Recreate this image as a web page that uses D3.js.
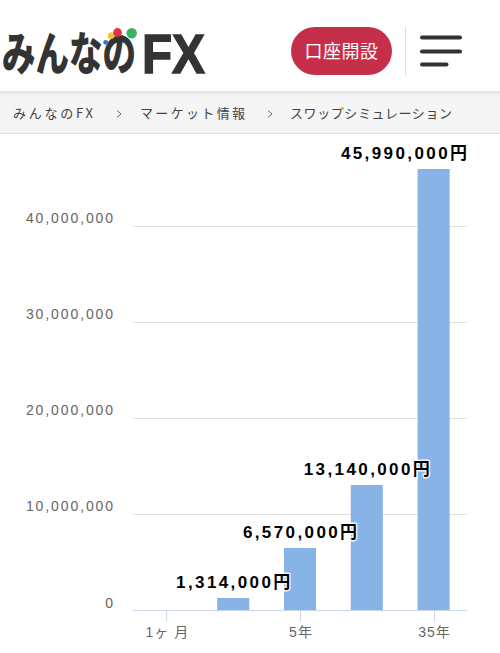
<!DOCTYPE html>
<html><head><meta charset="utf-8">
<script src="https://cdn.jsdelivr.net/npm/d3@7"></script>
<style>
html,body{margin:0;padding:0;background:#fff;}
svg{display:block;}
</style></head>
<body>
<svg id="c" width="500" height="653"></svg>
<script>
// ---- data ----
const categories = ["1ヶ 月", "1年", "5年", "10年", "35年"];
const values = [109500, 1314000, 6570000, 13140000, 45990000];
const showValueLabel = [false, true, true, true, true];
const showCategoryLabel = [true, false, true, false, true];
const yTickValues = [0, 10000000, 20000000, 30000000, 40000000];
const breadcrumbs = ["みんなのFX", "マーケット情報", "スワップシミュレーション"];
const logoKana = "みんなの";
const logoLatin = "FX";
const buttonText = "口座開設";

const svg = d3.select("#c");
const sans = "'Liberation Sans', Arial, 'Noto Sans CJK JP', sans-serif";
const cjk = "'Noto Sans CJK JP', sans-serif";

// ---- header ----
const header = svg.append("g");
const kana = header.append("text").text(logoKana)
  .attr("font-family", cjk).attr("font-weight", 900).attr("font-size", 46)
  .attr("fill", "#333");
const kw = kana.node().getComputedTextLength();
kana.attr("transform", `translate(2,70) scale(${134 / kw},1)`);
const latin = header.append("text").text(logoLatin)
  .attr("font-family", "'Liberation Sans', Arial, sans-serif").attr("font-weight", 700).attr("font-size", 56)
  .attr("fill", "#333").attr("stroke", "#333").attr("stroke-width", 1.5);
const lw = latin.node().getComputedTextLength();
latin.attr("transform", `translate(142,73) scale(${63 / lw},1)`);
const dots = [
  {x: 105.7, y: 42.3, r: 2.4, c: "#2b78cf"},
  {x: 111, y: 35.7, r: 3.2, c: "#f3c12c"},
  {x: 117.5, y: 32.5, r: 4.4, c: "#e0363f"},
  {x: 131.7, y: 33.3, r: 5.2, c: "#3bb063"}
];
header.selectAll("circle.dot").data(dots).join("circle")
  .attr("cx", d => d.x).attr("cy", d => d.y).attr("r", d => d.r).attr("fill", d => d.c);

header.append("rect").attr("x", 291).attr("y", 27).attr("width", 101).attr("height", 48)
  .attr("rx", 24).attr("fill", "#c62f49");
header.append("text").text(buttonText)
  .attr("x", 341.5).attr("y", 51.5).attr("dy", "0.36em")
  .attr("text-anchor", "middle").attr("font-family", cjk).attr("font-size", 18)
  .attr("letter-spacing", "0.5px").attr("fill", "#fff");
header.append("line").attr("x1", 405.5).attr("x2", 405.5).attr("y1", 27).attr("y2", 75)
  .attr("stroke", "#ddd").attr("stroke-width", 1);
const burger = [{y: 37.5, x2: 460}, {y: 51.5, x2: 460}, {y: 64.5, x2: 446.5}];
header.selectAll("line.burger").data(burger).join("line")
  .attr("x1", 422).attr("x2", d => d.x2).attr("y1", d => d.y).attr("y2", d => d.y)
  .attr("stroke", "#333").attr("stroke-width", 4).attr("stroke-linecap", "round");

// ---- breadcrumb bar ----
const defs = svg.append("defs");
const grad = defs.append("linearGradient").attr("id", "sh").attr("x1", 0).attr("x2", 0).attr("y1", 0).attr("y2", 1);
grad.append("stop").attr("offset", "0%").attr("stop-color", "#e2e2e2");
grad.append("stop").attr("offset", "100%").attr("stop-color", "#f5f5f5");
svg.append("rect").attr("x", 0).attr("y", 92).attr("width", 500).attr("height", 41).attr("fill", "#f5f5f5");
svg.append("rect").attr("x", 0).attr("y", 91).attr("width", 500).attr("height", 5).attr("fill", "url(#sh)");
svg.append("line").attr("x1", 0).attr("x2", 500).attr("y1", 133.5).attr("y2", 133.5).attr("stroke", "#dedede");
const crumbX = [13, 140, 290];
const crumbW = [80, 105, 162];
const sepX = [117, 268];
svg.selectAll("text.crumb").data(breadcrumbs).join("text")
  .attr("x", (d, i) => crumbX[i]).attr("y", 113).attr("dy", "0.36em")
  .attr("font-family", cjk).attr("font-size", 13)
  .attr("textLength", (d, i) => crumbW[i]).attr("lengthAdjust", "spacing")
  .attr("fill", "#444").text(d => d);
svg.selectAll("path.sep").data(sepX).join("path")
  .attr("d", x => `M${x},110.5 L${x + 4},114 L${x},117.5`)
  .attr("fill", "none").attr("stroke", "#666").attr("stroke-width", 1);

// ---- chart ----
const plotLeft = 133, plotRight = 467;
const x = d3.scaleBand().domain(categories).range([plotLeft, plotRight])
  .paddingInner(0.52).paddingOuter(0.26);
const y = d3.scaleLinear().domain([0, 40000000]).range([611, 226.5]);
const fmt = d3.format(",");

const chart = svg.append("g");
// gridlines
chart.selectAll("line.grid").data(yTickValues.filter(v => v > 0)).join("line")
  .attr("x1", plotLeft).attr("x2", plotRight)
  .attr("y1", d => Math.round(y(d)) - 0.5).attr("y2", d => Math.round(y(d)) - 0.5)
  .attr("stroke", "#e0e0e0").attr("stroke-width", 1);
// y labels
chart.selectAll("text.ylab").data(yTickValues).join("text")
  .attr("x", 115).attr("y", d => y(d) - 3.5)
  .attr("text-anchor", "end").attr("font-family", sans).attr("font-size", 14)
  .attr("letter-spacing", "1.9px").attr("fill", "#666").text(d => fmt(d));

// bars
chart.selectAll("rect.bar").data(values).join("rect")
  .attr("x", (d, i) => x(categories[i])).attr("width", x.bandwidth())
  .attr("y", d => Math.round(y(d))).attr("height", d => y(0) - Math.round(y(d)))
  .attr("fill", "#87b3e6");

// axis line + ticks
chart.append("line").attr("x1", plotLeft).attr("x2", plotRight).attr("y1", 610.5).attr("y2", 610.5)
  .attr("stroke", "#ccd6eb");
const shownCats = categories.filter((c, i) => showCategoryLabel[i]);
chart.selectAll("line.tick").data(shownCats).join("line")
  .attr("x1", c => Math.round(x(c) + x.bandwidth() / 2) + 0.5)
  .attr("x2", c => Math.round(x(c) + x.bandwidth() / 2) + 0.5)
  .attr("y1", 610).attr("y2", 621).attr("stroke", "#ccd6eb");
chart.selectAll("text.xlab").data(shownCats).join("text")
  .attr("x", c => x(c) + x.bandwidth() / 2 + 1).attr("y", 636.5)
  .attr("text-anchor", "middle").attr("font-family", sans).attr("font-size", 14)
  .attr("letter-spacing", "1px").attr("fill", "#666").text(c => c);

// value labels
const lab = chart.selectAll("text.val").data(values.map((v, i) => ({v, i})).filter(d => showValueLabel[d.i]))
  .join("text")
  .attr("font-family", sans).attr("font-weight", 700).attr("font-size", 17)
  .attr("letter-spacing", "2.4px").attr("fill", "#000")
  .attr("stroke", "#fff").attr("stroke-width", 3).attr("stroke-opacity", 0.85)
  .attr("stroke-linejoin", "round").attr("paint-order", "stroke")
  .attr("y", d => y(d.v) - 10)
  .text(d => fmt(d.v) + "円");
lab.each(function(d) {
  const w = this.getComputedTextLength() - 2.4;
  const cx = x(categories[d.i]) + x.bandwidth() / 2;
  let left = cx - w / 2;
  if (left + w > plotRight) left = plotRight - w;
  d3.select(this).attr("x", left);
});
</script>
</body></html>
